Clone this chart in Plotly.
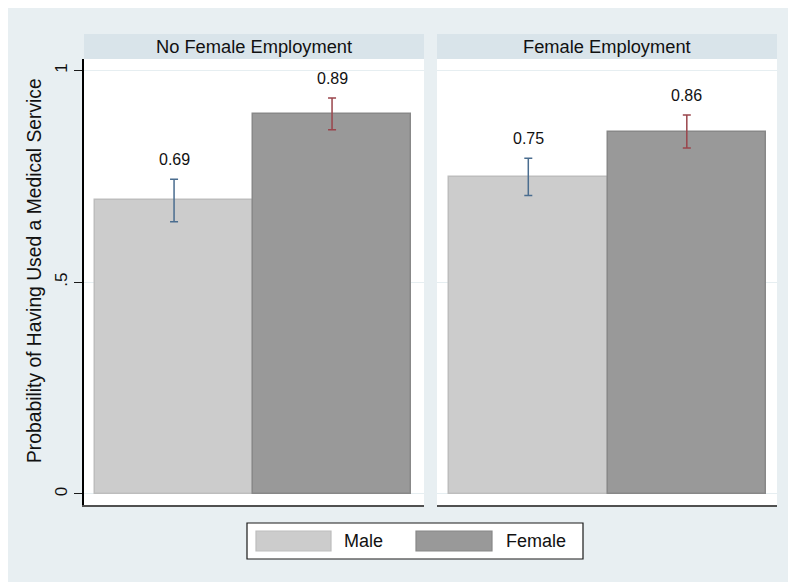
import plotly.graph_objects as go

# ---- data ----
panels = ["No Female Employment", "Female Employment"]
sexes = ["Male", "Female"]
male_prob = [0.6935, 0.7485]
female_prob = [0.897, 0.855]
male_ci_low = [0.643, 0.705]
male_ci_high = [0.743, 0.793]
female_ci_low = [0.860, 0.817]
female_ci_high = [0.935, 0.895]
male_labels = ["0.69", "0.75"]
female_labels = ["0.89", "0.86"]
y_tickvals = [0, 0.5, 1]
y_ticktext = ["0", ".5", "1"]
y_title = "Probability of Having Used a Medical Service"

# ---- geometry (page body has an 8px margin; coordinates below are window px) ----
OFF = 8
W, H = 796 - OFF, 582 - OFF
ML, MR, MT, MB = 84 - OFF, 19, 59 - OFF, 77
PW, PH = W - ML - MR, H - MT - MB

def px(x):
    return (x - OFF - ML) / PW

def py(y):
    return (H - MB - (y - OFF)) / PH

BG = "#e8eff2"
STRIP = "#d9e4ea"
GRID = "#e6eef1"
FONT = "Liberation Sans, Arial, sans-serif"
MALE_FILL, MALE_LINE = "#cccccc", "#bdbdbd"
FEM_FILL, FEM_LINE = "#999999", "#888888"
MALE_ERR, FEM_ERR = "#4a6d8f", "#9a454c"

fig = go.Figure()

series = [
    (sexes[0], male_prob, male_ci_low, male_ci_high, MALE_FILL, MALE_LINE, MALE_ERR, male_labels),
    (sexes[1], female_prob, female_ci_low, female_ci_high, FEM_FILL, FEM_LINE, FEM_ERR, female_labels),
]

annotations = []
for pi, panel in enumerate(panels):
    xa = "x" if pi == 0 else "x2"
    ya = "y" if pi == 0 else "y2"
    for name, vals, lo, hi, fill, line, err, labs in series:
        v = vals[pi]
        fig.add_trace(go.Bar(
            x=[name], y=[v], width=1, xaxis=xa, yaxis=ya,
            marker=dict(color=fill, line=dict(color=line, width=1.5)),
            error_y=dict(type="data", symmetric=False,
                         array=[hi[pi] - v], arrayminus=[v - lo[pi]],
                         color=err, thickness=1.5, width=4),
            showlegend=False, hoverinfo="skip",
        ))
        annotations.append(dict(
            x=name, y=hi[pi], xref=xa, yref=ya, text=labs[pi],
            showarrow=False, yanchor="bottom", yshift=9,
            font=dict(family=FONT, size=16, color="#111111"),
        ))

# panel header texts
left_dom = [0, 340 / PW]
right_dom = [353 / PW, 1]
for dom, panel in zip([left_dom, right_dom], panels):
    annotations.append(dict(
        x=(dom[0] + dom[1]) / 2, y=py(46.5), xref="paper", yref="paper",
        text=panel, showarrow=False, xanchor="center", yanchor="middle",
        font=dict(family=FONT, size=18.3, color="#111111"),
    ))

# y-axis title
annotations.append(dict(
    x=px(34), y=py(271), xref="paper", yref="paper", text=y_title,
    textangle=-90, showarrow=False, xanchor="center", yanchor="middle",
    font=dict(family=FONT, size=19.3, color="#111111"),
))

# legend texts
annotations.append(dict(x=px(342), y=py(541), xref="paper", yref="paper",
                        text=sexes[0], showarrow=False, xanchor="left", yanchor="middle",
                        font=dict(family=FONT, size=18, color="#111111")))
annotations.append(dict(x=px(504), y=py(541), xref="paper", yref="paper",
                        text=sexes[1], showarrow=False, xanchor="left", yanchor="middle",
                        font=dict(family=FONT, size=18, color="#111111")))

shapes = []
def rect(x0, y0, x1, y1, fill, line=None, lw=0):
    shapes.append(dict(type="rect", xref="paper", yref="paper",
                       x0=px(x0), x1=px(x1), y0=py(y1), y1=py(y0),
                       fillcolor=fill, line=dict(color=line or fill, width=lw),
                       layer="above"))

# header strips
rect(84, 34, 424, 59, STRIP)
rect(437, 34, 777, 59, STRIP)
# legend
rect(247, 523, 583, 559, "white", "#1a1a1a", 1.2)
rect(256, 531, 331, 551, MALE_FILL, MALE_LINE, 1.2)
rect(416, 531, 492, 551, FEM_FILL, FEM_LINE, 1.2)

y_range = [-0.026, 1.0271]
x_range_left = [-0.57, 1.582]
x_range_right = [-0.576, 1.569]

fig.update_layout(
    width=W, height=H,
    margin=dict(l=ML, r=MR, t=MT, b=MB, pad=0),
    paper_bgcolor=BG, plot_bgcolor="white",
    barmode="overlay", bargap=0,
    font=dict(family=FONT, color="#111111"),
    xaxis=dict(domain=left_dom, range=x_range_left, type="category",
               showticklabels=False, ticks="", showgrid=False, zeroline=False,
               showline=True, linecolor="#505050", linewidth=2, fixedrange=True),
    xaxis2=dict(domain=right_dom, range=x_range_right, type="category", anchor="y2",
                showticklabels=False, ticks="", showgrid=False, zeroline=False,
                showline=True, linecolor="#505050", linewidth=2, fixedrange=True),
    yaxis=dict(range=y_range, tickvals=y_tickvals, ticktext=y_ticktext,
               ticks="outside", ticklen=8, tickwidth=1.3, tickcolor="#1a1a1a",
               tickangle=-90, tickfont=dict(family=FONT, size=17, color="#111111"),
               showgrid=True, gridcolor=GRID, gridwidth=1, zeroline=False,
               showline=True, linecolor="#000000", linewidth=1.5, fixedrange=True),
    yaxis2=dict(range=y_range, anchor="x2", tickvals=y_tickvals,
                showticklabels=False, ticks="",
                showgrid=True, gridcolor=GRID, gridwidth=1, zeroline=False,
                showline=False, fixedrange=True),
    annotations=annotations,
    shapes=shapes,
    showlegend=False,
)

fig.write_html("out.html")
